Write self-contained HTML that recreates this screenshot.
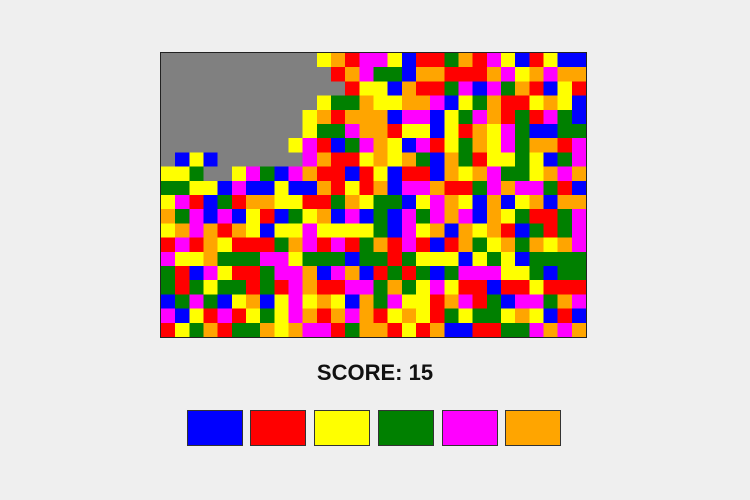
<!DOCTYPE html>
<html><head><meta charset="utf-8"><style>
html,body{margin:0;padding:0;background:#efefef;width:750px;height:500px;overflow:hidden;font-family:"Liberation Sans",sans-serif}
#board{position:absolute;left:161px;top:53px;width:425px;height:284px;outline:1px solid #222}
#score{position:absolute;left:0;width:750px;top:360px;text-align:center;font-weight:bold;font-size:22px;color:#111}
.btn{position:absolute;top:410px;width:54px;height:34px;border:1px solid #333}
</style></head><body>
<svg id="board" width="425" height="284" viewBox="0 0 30 20" preserveAspectRatio="none" shape-rendering="crispEdges"></svg>
<div id="score">SCORE: 15</div>
<div class="btn" style="left:187px;background:#0000ff"></div>
<div class="btn" style="left:250px;background:#ff0000"></div>
<div class="btn" style="left:314px;background:#ffff00"></div>
<div class="btn" style="left:378px;background:#008000"></div>
<div class="btn" style="left:442px;background:#ff00ff"></div>
<div class="btn" style="left:505px;background:#ffa500"></div>
<script>
const rows = [
"XXXXXXXXXXXYORMMYBRRGORMYBRYBB",
"XXXXXXXXXXXXROMGGBOORRROMYOMOO",
"XXXXXXXXXXXXXRYYBORRGMBMGORBYR",
"XXXXXXXXXXXYGGOYYOOMBYGORRYOYB",
"XXXXXXXXXXYOROOOBMMBYGMORGRMGB",
"XXXXXXXXXXYGGMOORYYBYROYMGBBGG",
"XXXXXXXXXYMRBGMOYBMRYGOYMGOORM",
"XBYBXXXXXXMORRYOYOGBOGRYYGYBGM",
"YYGXXYMGBMORRBRYBRRBOYOMGGYOMO",
"GGYYBMBBYBBORYROBMMORRGMOMMGRB",
"YMRBGROOYYRRGOYGGBYMOYBOBYOBOO",
"OGMBMBYRBGYOBMBGBMGMOMBOYGRRGM",
"YOMOROYBYYMYYYYGBMYOBOYORBGRGM",
"RMROYRRRGOMRMRGORMRBROGYOGOYOM",
"MYYOGGGMMYGGGBGGRGYYYBYGYBGGGG",
"GRBMYRRGMMOBMOBRGRGBGMMMYYGBGG",
"GRGYGGRGRMORRMMGOGYMYRRBRRYRRR",
"BGMGBYOBYMYOYBOGMYYROMRGBMMGOM",
"MBYRMRYGYMOROMORYOYRGYGGYOYBRB",
"RYGORGGOYOMMRGOORYROBBRRGGMOMO"
];
const palette = {X:"#808080",B:"#0000ff",R:"#ff0000",Y:"#ffff00",G:"#008000",M:"#ff00ff",O:"#ffa500"};
const svg = document.getElementById('board');
rows.forEach((row, r) => {
  [...row].forEach((c, col) => {
    const rect = document.createElementNS('http://www.w3.org/2000/svg','rect');
    rect.setAttribute('x', col);
    rect.setAttribute('y', r);
    rect.setAttribute('width', 1.02);
    rect.setAttribute('height', 1.02);
    rect.setAttribute('fill', palette[c]);
    
    
    svg.appendChild(rect);
  });
});
</script>
</body></html>
